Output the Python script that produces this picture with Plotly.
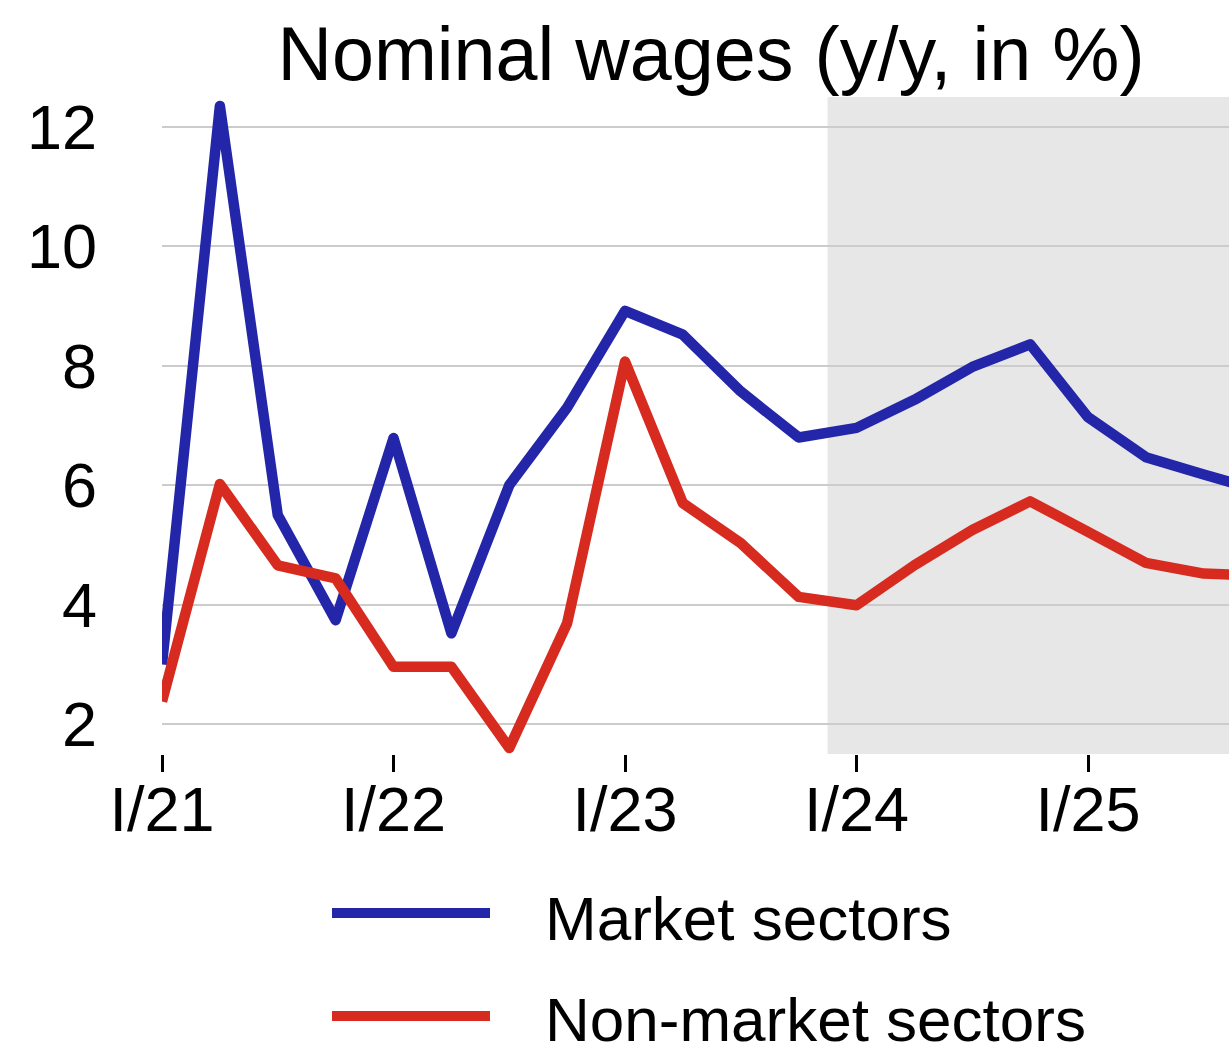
import plotly.graph_objects as go

quarters = ["I/21", "II/21", "III/21", "IV/21",
            "I/22", "II/22", "III/22", "IV/22",
            "I/23", "II/23", "III/23", "IV/23",
            "I/24", "II/24", "III/24", "IV/24",
            "I/25", "II/25", "III/25", "IV/25"]
market = [3.0, 12.35, 5.5, 3.74,
          6.79, 3.52, 6.0, 7.3,
          8.92, 8.52, 7.57, 6.8,
          6.96, 7.43, 7.98, 8.36,
          7.14, 6.47, 6.18, 5.9]
non_market = [2.38, 6.02, 4.66, 4.44,
              2.96, 2.96, 1.6, 3.69,
              8.07, 5.7, 5.03, 4.13,
              3.99, 4.66, 5.25, 5.73,
              5.22, 4.7, 4.52, 4.49]
tick_labels = ["I/21", "I/22", "I/23", "I/24", "I/25"]
y_ticks = [2, 4, 6, 8, 10, 12]
series_names = ["Market sectors", "Non-market sectors"]

BLUE = "#2326A9"
RED = "#D72B20"
FONT = "Liberation Sans, Arial, sans-serif"

W, H = 1229, 1047
L, R, T, B = 162, 0, 97, 293
PW, PH = W - L - R, H - T - B

fig = go.Figure()
fig.add_trace(go.Scatter(x=quarters, y=market, mode="lines", name=series_names[0],
                         line=dict(color=BLUE, width=10.5), showlegend=False))
fig.add_trace(go.Scatter(x=quarters, y=non_market, mode="lines", name=series_names[1],
                         line=dict(color=RED, width=10.5), showlegend=False))

# forecast shading
fig.add_shape(type="rect", xref="x", yref="paper", x0=11.5, x1=25, y0=0, y1=1,
              fillcolor="#E7E7E7", line=dict(width=0), layer="below")

# custom legend
def px_x(p):
    return (p - L) / PW

def px_y(p):
    return (H - B - p) / PH

for name, col, ly, ty in [(series_names[0], BLUE, 913, 918),
                          (series_names[1], RED, 1016, 1019)]:
    fig.add_shape(type="line", xref="paper", yref="paper",
                  x0=px_x(332), x1=px_x(490), y0=px_y(ly), y1=px_y(ly),
                  line=dict(color=col, width=10))
    fig.add_annotation(xref="paper", yref="paper", x=px_x(543), y=px_y(ty),
                       xanchor="left", yanchor="middle", showarrow=False,
                       text=name, font=dict(family=FONT, size=62, color="black"))

fig.update_layout(
    width=W, height=H,
    margin=dict(l=L, r=R, t=T, b=B, autoexpand=False),
    paper_bgcolor="white", plot_bgcolor="white",
    title=dict(text="Nominal wages (y/y, in %)", xref="container", yref="container",
               x=711 / W, xanchor="center", y=1 - 54 / H, yanchor="middle",
               font=dict(family=FONT, size=75.5, color="black")),
    font=dict(family=FONT, color="black"),
)
fig.update_xaxes(type="category", range=[0, PW / 57.875],
                 tickmode="array", tickvals=tick_labels, ticktext=tick_labels,
                 ticks="outside", ticklen=17, tickwidth=3, tickcolor="black",
                 ticklabelstandoff=-17,
                 showgrid=False, showline=False, zeroline=False,
                 tickfont=dict(family=FONT, size=63, color="black"))
fig.update_yaxes(range=[1.5, 12.5], tickmode="array", tickvals=y_ticks,
                 showgrid=True, gridcolor="#CCCCCC", gridwidth=2,
                 showline=False, zeroline=False, ticks="",
                 ticklabelstandoff=64,
                 tickfont=dict(family=FONT, size=63, color="black"))

post = ("document.body.style.margin='0';"
        "var s=document.createElement('style');"
        "s.textContent='.scatterlayer .js-line{stroke-linejoin:round}';"
        "document.head.appendChild(s);")
fig.write_html("out.html", post_script=post, config={"displayModeBar": False})
